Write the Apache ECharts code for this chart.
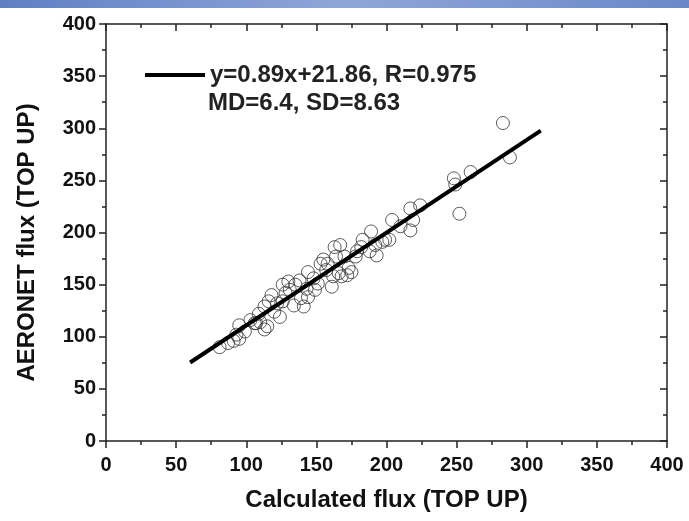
<!DOCTYPE html>
<html>
<head>
<meta charset="utf-8">
<script src="https://cdn.jsdelivr.net/npm/echarts@6/dist/echarts.min.js"></script>
<style>
html, body { margin: 0; padding: 0; background: #fff; }
#chart { width: 689px; height: 521px; }
</style>
</head>
<body>
<div id="chart"></div>
<script>
// 数据：计算通量 vs AERONET 通量
var calcFlux = [81, 91, 95, 95, 103, 110, 115, 109, 118, 124, 122, 128, 130, 135, 139, 141, 134, 144, 144, 151,
    153, 161, 164, 167, 166, 173, 172, 179, 183, 189, 188, 193, 197, 202, 204, 210, 217, 217, 224, 219,
    248, 249, 252, 260, 113, 99, 87, 107, 120, 116, 126, 131, 138, 148, 149, 157, 155, 163, 170, 178,
    182, 192, 199, 175, 168, 162, 126, 113, 106, 93, 143, 158, 283, 288];
var aeronetFlux = [90, 96, 98, 111, 116, 114, 110, 122, 140, 119, 132, 142, 153, 150, 137, 129, 130, 138, 162, 151,
    170, 148, 177, 188, 161, 166, 159, 182, 193, 201, 182, 178, 191, 193, 212, 206, 202, 223, 226, 212,
    252, 246, 218, 258, 107, 105, 94, 113, 124, 134, 134, 145, 154, 156, 145, 164, 174, 186, 177, 177,
    186, 188, 193, 162, 158, 158, 150, 129, 113, 102, 146, 170, 305, 272];

// 拟合线
var fitSlope = 0.89;
var fitIntercept = 21.86;
var fitRange = [60, 310];
var fitLabel = 'y=0.89x+21.86, R=0.975';
var statsLabel = 'MD=6.4, SD=8.63';

var points = calcFlux.map(function (x, i) { return [x, aeronetFlux[i]]; });
var fitLine = fitRange.map(function (x) { return [x, fitSlope * x + fitIntercept]; });

var fontFamily = 'Liberation Sans, Arial, sans-serif';
var axisColor = '#222';

function makeAxis(opts) {
    return Object.assign({
        type: 'value',
        min: 0,
        max: 400,
        interval: 50,
        axisLine: { show: true, onZero: false, lineStyle: { color: axisColor, width: 1.5 } },
        axisTick: { show: true, length: 7, lineStyle: { color: axisColor, width: 1.5 } },
        minorTick: { show: true, splitNumber: 2, length: 4, lineStyle: { color: axisColor, width: 1.5 } },
        splitLine: { show: false },
        axisLabel: {
            fontFamily: fontFamily,
            fontWeight: 'bold',
            fontSize: 20,
            color: '#111',
            margin: 10
        }
    }, opts);
}

var myChart = echarts.init(document.getElementById('chart'));

var option = {
    backgroundColor: '#fff',
    animation: false,
    grid: {
        left: 106,
        right: 22,
        top: 24,
        bottom: 80
    },
    graphic: [{
        type: 'rect',
        left: 0,
        top: 0,
        shape: { width: 689, height: 8 },
        style: {
            fill: new echarts.graphic.LinearGradient(0, 0, 1, 0, [
                { offset: 0, color: '#5f7fc4' },
                { offset: 0.5, color: '#8fa6d8' },
                { offset: 1, color: '#6a88c8' }
            ])
        },
        silent: true
    }],
    title: {
        text: statsLabel,
        left: 208,
        top: 91,
        textStyle: {
            fontFamily: fontFamily,
            fontWeight: 'bold',
            fontSize: 24,
            color: '#222'
        },
        padding: 0
    },
    legend: {
        data: [fitLabel],
        left: 145,
        top: 62,
        icon: 'rect',
        itemWidth: 60,
        itemHeight: 4,
        padding: 0,
        textStyle: {
            fontFamily: fontFamily,
            fontWeight: 'bold',
            fontSize: 24,
            lineHeight: 26,
            color: '#222'
        }
    },
    xAxis: [
        makeAxis({
            position: 'bottom',
            name: 'Calculated flux (TOP UP)',
            nameLocation: 'middle',
            nameGap: 47,
            nameTextStyle: { fontFamily: fontFamily, fontWeight: 'bold', fontSize: 24, color: '#111' },
            axisLabel: { fontFamily: fontFamily, fontWeight: 'bold', fontSize: 20, color: '#111', margin: 14 }
        }),
        makeAxis({
            position: 'top',
            axisTick: { show: true, inside: true, length: 7, lineStyle: { color: axisColor, width: 1.5 } },
            axisLabel: { show: false }
        })
    ],
    yAxis: [
        makeAxis({
            position: 'left',
            name: 'AERONET flux (TOP UP)',
            nameLocation: 'middle',
            nameGap: 67,
            nameTextStyle: {
                fontFamily: fontFamily, fontWeight: 'bold', fontSize: 24, color: '#111',
                padding: [0, 20, 0, 0]
            }
        }),
        makeAxis({
            position: 'right',
            axisTick: { show: true, inside: true, length: 7, lineStyle: { color: axisColor, width: 1.5 } },
            axisLabel: { show: false }
        })
    ],
    series: [
        {
            name: 'points',
            type: 'scatter',
            data: points,
            symbol: 'circle',
            symbolSize: 13,
            itemStyle: {
                color: 'rgba(255,255,255,0)',
                borderColor: '#333',
                borderWidth: 1
            },
            z: 2
        },
        {
            name: fitLabel,
            type: 'line',
            data: fitLine,
            symbol: 'none',
            lineStyle: { color: '#000', width: 4 },
            itemStyle: { color: '#000' },
            z: 3
        }
    ]
};

myChart.setOption(option);
</script>
</body>
</html>
